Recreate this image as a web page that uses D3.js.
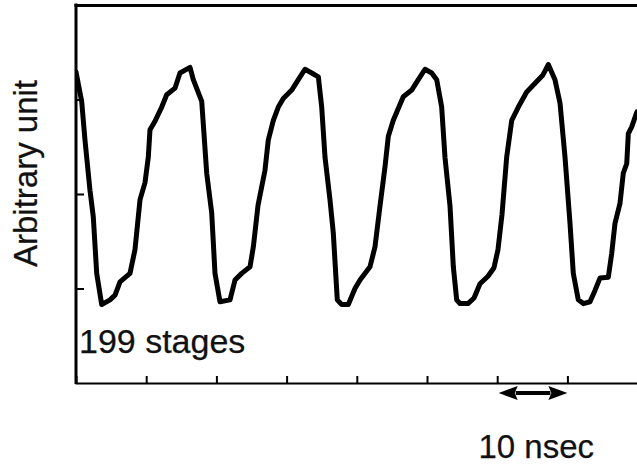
<!DOCTYPE html>
<html>
<head>
<meta charset="utf-8">
<script src="https://cdn.jsdelivr.net/npm/d3@7"></script>
<style>
  html, body { margin: 0; padding: 0; background: #fff; }
  svg { display: block; }
  text { font-family: Arial, "Liberation Sans", sans-serif; fill: #111; stroke: #111; stroke-width: 0.25px; }
</style>
</head>
<body>
<svg id="chart" width="637" height="470"></svg>
<script>
// time in nsec
const timeNs = [0, 0.81, 1.28, 1.99, 2.46, 2.95, 3.66, 4.84, 5.56, 6.27, 7.69, 8.40, 9.12, 9.83, 10.30, 10.54, 11.25, 12.21, 12.92, 14.10, 14.81, 16.24, 16.71, 17.91, 18.62, 19.33, 19.80, 20.51, 21.94, 22.65, 23.60, 24.79, 25.26, 25.93, 26.92, 27.39, 28.11, 28.82, 29.53, 30.73, 31.67, 32.62, 33.58, 34.52, 35.00, 35.47, 36.18, 36.65, 37.22, 37.85, 38.79, 39.74, 40.46, 41.88, 42.59, 43.30, 44.02, 44.49, 45.20, 46.62, 47.82, 48.76, 49.72, 50.67, 51.38, 52.09, 52.56, 53.28, 53.75, 54.23, 54.70, 55.84, 56.70, 57.55, 58.69, 59.54, 60.11, 60.68, 61.35, 62.07, 63.01, 64.20, 65.63, 66.52, 67.28, 68.23, 68.95, 69.66, 70.37, 70.84, 71.55, 72.27, 73.22, 73.93, 74.64, 75.83, 76.31, 76.78, 77.49, 77.96, 78.45, 78.68, 79.16, 79.91];
// signal, arbitrary unit
const signal = [3.29, 2.98, 2.57, 2.04, 1.76, 1.16, 0.83, 0.88, 0.93, 1.07, 1.16, 1.41, 1.94, 2.12, 2.39, 2.68, 2.77, 2.92, 3.05, 3.12, 3.28, 3.34, 3.21, 2.98, 2.22, 1.80, 1.16, 0.86, 0.88, 1.09, 1.16, 1.23, 1.44, 1.88, 2.25, 2.57, 2.78, 2.92, 3.01, 3.10, 3.21, 3.32, 3.28, 3.24, 2.92, 2.39, 1.94, 1.59, 0.88, 0.83, 0.83, 1.00, 1.09, 1.23, 1.44, 1.87, 2.29, 2.61, 2.78, 3.03, 3.10, 3.21, 3.32, 3.28, 3.21, 2.92, 2.39, 1.87, 1.23, 0.88, 0.84, 0.84, 0.90, 1.05, 1.13, 1.22, 1.41, 1.78, 2.39, 2.78, 2.92, 3.08, 3.19, 3.26, 3.37, 3.21, 2.96, 2.39, 1.69, 1.16, 0.88, 0.84, 0.86, 0.98, 1.11, 1.12, 1.37, 1.69, 1.90, 2.22, 2.32, 2.64, 2.71, 2.87];
const xTicks = [10, 20, 30, 40, 50, 60, 70, 80];
const yTicks = [1, 2, 3];
const scaleBar = [60, 70];
const yLabel = "Arbitrary unit";
const stageLabel = "199 stages";
const scaleLabel = "10 nsec";

(function () {
const svg = d3.select("#chart");
const mLeft = 76, mTop = 5, mBottom = 383, mRight = 637.6;

const x = d3.scaleLinear().domain([0, 80]).range([mLeft, mRight]);
const y = d3.scaleLinear().domain([0, 4]).range([mBottom, mTop]);

svg.append("defs").append("clipPath").attr("id", "clip")
  .append("rect").attr("x", mLeft).attr("y", mTop).attr("width", mRight - mLeft).attr("height", mBottom - mTop);

// x axis (ticks pointing up, inside)
const xAxis = d3.axisBottom(x).tickValues(xTicks).tickSize(-7).tickFormat("");
const gx = svg.append("g").attr("transform", `translate(0,${mBottom})`).call(xAxis);
gx.select(".domain").attr("stroke", "#000").attr("stroke-width", 2);
gx.selectAll(".tick line").attr("stroke", "#000").attr("stroke-width", 2);

// y axis (ticks pointing right, inside)
const yAxis = d3.axisLeft(y).tickValues(yTicks).tickSize(-8).tickFormat("");
const gy = svg.append("g").attr("transform", `translate(${mLeft},0)`).call(yAxis);
gy.select(".domain").remove();
gy.selectAll(".tick line").attr("stroke", "#000").attr("stroke-width", 2);

// left and top frame lines
svg.append("line").attr("x1", mLeft).attr("x2", mLeft).attr("y1", mTop - 1.5).attr("y2", mBottom + 1)
  .attr("stroke", "#000").attr("stroke-width", 3);
svg.append("line").attr("x1", mLeft - 1.5).attr("x2", 637).attr("y1", mTop + 0.5).attr("y2", mTop + 0.5)
  .attr("stroke", "#000").attr("stroke-width", 3);

// signal trace
const data = timeNs.map((t, i) => [t, signal[i]]);
svg.append("path")
  .datum(data)
  .attr("clip-path", "url(#clip)")
  .attr("fill", "none")
  .attr("stroke", "#000")
  .attr("stroke-width", 5)
  .attr("stroke-linejoin", "round")
  .attr("stroke-linecap", "round")
  .attr("d", d3.line().x(d => x(d[0])).y(d => y(d[1])));

// y label
svg.append("text")
  .attr("transform", `translate(37,173.5) rotate(-90)`)
  .attr("text-anchor", "middle")
  .attr("font-size", 33)
  .text(yLabel);

// stage label
svg.append("text")
  .attr("x", 79).attr("y", 353)
  .attr("font-size", 34)
  .text(stageLabel);

// scale bar double arrow
const ax1 = x(scaleBar[0]) + 1.5, ax2 = x(scaleBar[1]), ay = 393, hl = 19, hh = 7;
svg.append("line").attr("x1", ax1 + hl - 2).attr("x2", ax2 - hl + 2).attr("y1", ay).attr("y2", ay)
  .attr("stroke", "#000").attr("stroke-width", 4);
svg.append("path")
  .attr("d", `M${ax1},${ay} L${ax1 + hl},${ay - hh} L${ax1 + hl - 3},${ay} L${ax1 + hl},${ay + hh} Z`)
  .attr("fill", "#000");
svg.append("path")
  .attr("d", `M${ax2},${ay} L${ax2 - hl},${ay - hh} L${ax2 - hl + 3},${ay} L${ax2 - hl},${ay + hh} Z`)
  .attr("fill", "#000");

svg.append("text")
  .attr("x", x((scaleBar[0] + scaleBar[1]) / 2) + 4).attr("y", 458)
  .attr("text-anchor", "middle")
  .attr("font-size", 33)
  .text(scaleLabel);
})();
</script>
</body>
</html>
